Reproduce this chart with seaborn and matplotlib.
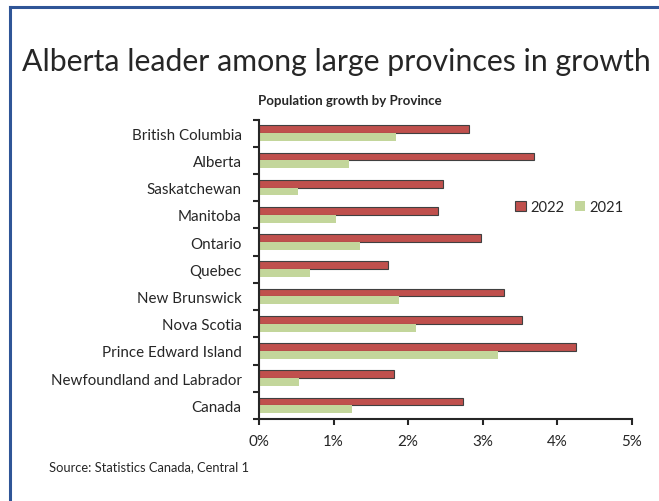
import matplotlib
matplotlib.use("Agg")
import matplotlib.pyplot as plt
from matplotlib.lines import Line2D
from matplotlib.patches import Patch
import seaborn as sns
import pandas as pd

provinces = ["British Columbia", "Alberta", "Saskatchewan", "Manitoba", "Ontario",
             "Quebec", "New Brunswick", "Nova Scotia", "Prince Edward Island",
             "Newfoundland and Labrador", "Canada"]
growth_2022 = [2.81, 3.68, 2.47, 2.40, 2.98, 1.73, 3.28, 3.53, 4.25, 1.81, 2.73]
growth_2021 = [1.83, 1.20, 0.52, 1.03, 1.36, 0.68, 1.88, 2.10, 3.21, 0.53, 1.24]
years = ["2022", "2021"]
x_ticks = [0, 1, 2, 3, 4, 5]
x_tick_labels = ["0%", "1%", "2%", "3%", "4%", "5%"]

df = pd.DataFrame({
    "Province": provinces * 2,
    "Year": [years[0]] * len(provinces) + [years[1]] * len(provinces),
    "Growth": growth_2022 + growth_2021,
})

sns.set_theme(style="white")
plt.rcParams["font.family"] = ["Lato", "DejaVu Sans"]

RED = "#C0504D"
GREEN = "#C3D69B"
TEXT = "#262626"

fig = plt.figure(figsize=(6.59, 5.02), dpi=100)
ax = fig.add_axes([259 / 659, 82 / 502, 373 / 659, 299.5 / 502])

sns.barplot(data=df, y="Province", x="Growth", hue="Year", hue_order=years,
            order=provinces, orient="h", palette=[RED, GREEN], width=0.575,
            saturation=1, legend=False, ax=ax)

for patch in ax.containers[0]:
    patch.set_edgecolor("#404040")
    patch.set_linewidth(0.8)
for patch in ax.containers[1]:
    patch.set_edgecolor("none")

ax.set_xlim(0, 5)
ax.set_ylim(len(provinces) - 0.5, -0.5)
ax.set_xticks(x_ticks)
ax.set_xticklabels(x_tick_labels)
ax.set_yticks(range(len(provinces)))
ax.set_yticklabels(provinces)
ax.set_xlabel("")
ax.set_ylabel("")

# category separators as tick marks on the value axis
ax.set_yticks([i - 0.5 for i in range(len(provinces) + 1)], minor=True)
ax.tick_params(axis="y", which="major", length=0, pad=12.5, labelsize=10.9, labelcolor=TEXT)
ax.tick_params(axis="y", which="minor", left=True, length=4, width=1.5, color="#262626")
ax.tick_params(axis="x", which="major", bottom=True, length=4, width=1.5, color="#262626",
               pad=6.5, labelsize=10.9, labelcolor=TEXT)

for side in ["top", "right"]:
    ax.spines[side].set_visible(False)
for side in ["left", "bottom"]:
    ax.spines[side].set_color("#262626")
    ax.spines[side].set_linewidth(1.5)
ax.grid(False)

handles = [Patch(facecolor=RED, edgecolor="#404040", linewidth=0.8, label="2022"),
           Patch(facecolor=GREEN, edgecolor="none", label="2021")]
fig.legend(handles=handles, loc="center left", bbox_to_anchor=(502 / 659, 1 - 208 / 502),
           ncol=2, frameon=False, fontsize=10.6, handlelength=0.72, handleheight=0.72,
           handletextpad=0.3, columnspacing=0.7, labelcolor=TEXT)

fig.text(22 / 659, 1 - 62 / 502, "Alberta leader among large provinces in growth",
         fontsize=21.8, color=TEXT, ha="left", va="center")
fig.text(350 / 659, 1 - 101 / 502, "Population growth by Province",
         fontsize=9.5, fontweight="bold", color=TEXT, ha="center", va="center")
fig.text(49 / 659, 1 - 467 / 502, "Source: Statistics Canada, Central 1",
         fontsize=9.3, color=TEXT, ha="left", va="center")

# frame around the panel (left and top edges)
BLUE = "#2F5597"
fig.add_artist(Line2D([10 / 659, 10 / 659], [0, 1 - 8 / 502], transform=fig.transFigure,
                      color=BLUE, linewidth=2.2, solid_capstyle="projecting"))
fig.add_artist(Line2D([10 / 659, 1], [1 - 8 / 502, 1 - 8 / 502], transform=fig.transFigure,
                      color=BLUE, linewidth=2.2, solid_capstyle="projecting"))

fig.savefig("out.png", dpi=100, facecolor="white")
